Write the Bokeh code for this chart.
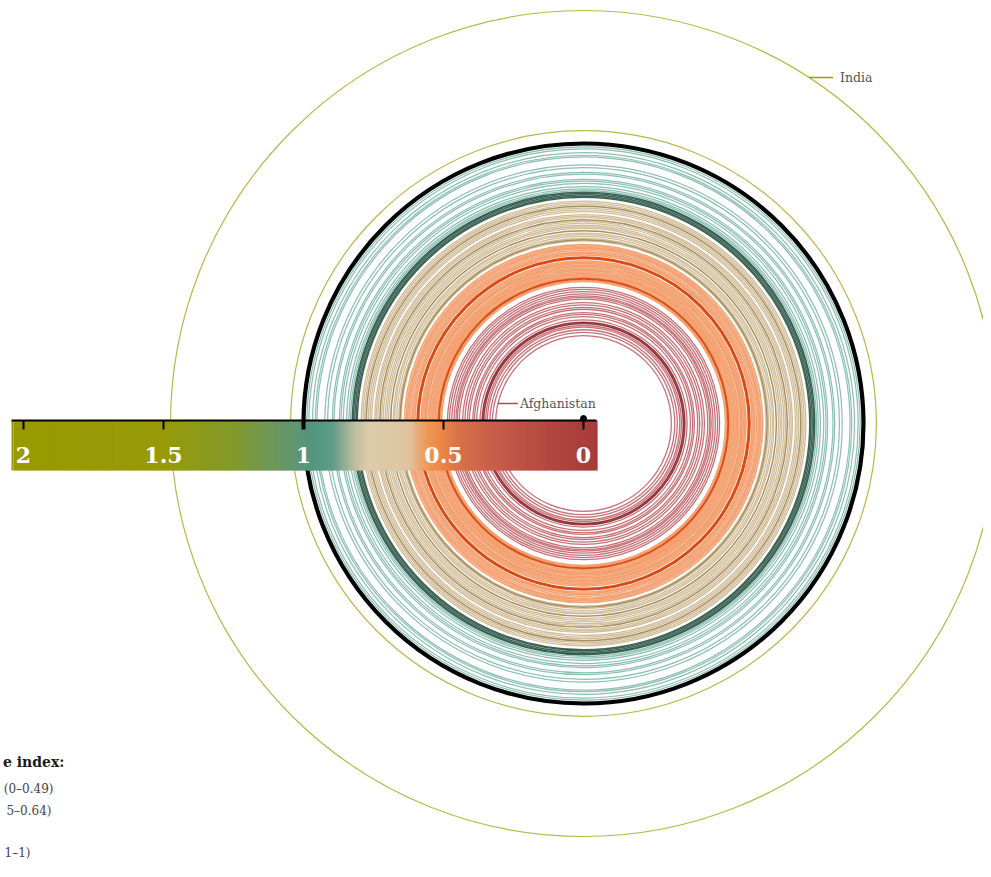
import math
from bokeh.plotting import figure
from bokeh.models import Range1d
from bokeh.core.properties import value
from bokeh.embed import file_html
from bokeh.resources import INLINE

# ---------------- data (index value per country) -------------
red_vals = [0.314, 0.326, 0.335, 0.344, 0.350, 0.370, 0.382, 0.390, 0.396,
            0.408, 0.415, 0.424, 0.432, 0.444, 0.451, 0.456, 0.463, 0.471,
            0.479, 0.486]
red_dark = [0.357, 0.362]
orange_vals = [0.507, 0.512, 0.521, 0.526, 0.531, 0.536, 0.541, 0.546, 0.551,
               0.556, 0.562, 0.566, 0.571, 0.576, 0.581, 0.602, 0.607, 0.612,
               0.618, 0.624, 0.629, 0.634, 0.640]
orange_dark = [0.517, 0.590, 0.594]
tan_vals = [0.652, 0.661, 0.668, 0.675, 0.680, 0.697, 0.703, 0.709, 0.716, 0.722,
            0.735, 0.741, 0.746, 0.757, 0.763, 0.769, 0.782, 0.788, 0.794]
tan_dark = [0.656, 0.689, 0.728, 0.776]
teal_vals = [0.832, 0.838, 0.846, 0.858, 0.866, 0.872, 0.891, 0.897, 0.914,
             0.924, 0.952, 0.958, 0.968, 0.981, 0.988]
teal_dark = [0.808, 0.812, 0.817, 0.822, 0.826]
above_vals = [1.046, 1.475]
parity_value = 1.0

label_names = ["Afghanistan", "India"]
label_values = [0.314, 1.475]

bar_ticks = [2, 1.5, 1, 0.5, 0]
bar_tick_labels = ["2", "1.5", "1", "0.5", "0"]

# legend text as far as the reference shows it (the rest lies off the page)
legend_title = "e index:"
legend_rows = ["(0–0.49)", "5–0.64)", "1–1)"]

# ---------------- layout -------------
W, H = 983, 861
S = 280.0            # px per index unit
CX, CY = 583, 423    # picture position of the centre


def X(px):
    return (px - CX) / S


def Y(py):
    return (CY - py) / S


p = figure(width=W, height=H, output_backend="svg", toolbar_location=None,
           x_range=Range1d(X(0), X(W)), y_range=Range1d(Y(H), Y(0)),
           min_border=0, x_axis_location=None, y_axis_location=None,
           background_fill_color="white", border_fill_color="white")
p.grid.visible = False
p.outline_line_color = None


def rings(vals, color, alpha, width):
    p.circle(x=[0] * len(vals), y=[0] * len(vals), radius=vals,
             fill_color=None, line_color=color, line_alpha=alpha, line_width=width)


rings(red_vals, "#b03c44", 0.72, 1.3)
rings(red_dark, "#8a2228", 0.9, 1.6)
rings(orange_vals, "#f07a38", 0.7, 1.5)
rings(orange_dark, "#d9460c", 0.95, 2.0)
rings(tan_vals, "#c6ab7e", 0.8, 1.3)
rings(tan_dark, "#9c8450", 0.9, 1.5)
rings(teal_vals, "#63aa97", 0.75, 1.2)
rings(teal_dark, "#1d4a3a", 0.85, 1.4)
rings(above_vals, "#b7b84a", 1.0, 1.2)
rings([parity_value], "#000000", 1.0, 4.2)

# ---------------- colour bar -------------
stops = [(2.05, (153, 153, 0)), (1.5, (151, 154, 8)), (1.25, (130, 154, 45)),
         (1.03, (95, 150, 115)), (0.97, (82, 149, 128)), (0.9, (95, 156, 135)),
         (0.82, (190, 190, 160)), (0.77, (222, 204, 170)), (0.63, (222, 196, 160)),
         (0.56, (238, 150, 85)), (0.52, (239, 138, 70)), (0.45, (217, 113, 74)),
         (0.3, (197, 90, 72)), (0.1, (176, 68, 63)), (-0.06, (165, 58, 59))]


def col_at(v):
    for (v0, c0), (v1, c1) in zip(stops[:-1], stops[1:]):
        if v1 <= v <= v0:
            t = (v0 - v) / (v0 - v1)
            return "#%02x%02x%02x" % tuple(int(round(a + (b - a) * t)) for a, b in zip(c0, c1))
    return "#%02x%02x%02x" % stops[-1][1]


bar_lo, bar_hi = -X(596), -X(11)   # value range covered by the bar
N = 300
step = (bar_hi - bar_lo) / N
lefts, rights, cols = [], [], []
for i in range(N):
    v0 = bar_lo + i * step
    lefts.append(-(v0 + step))
    rights.append(-v0 + (0.004 if i < N - 1 else 0))
    cols.append(col_at(v0 + step / 2))
p.quad(left=lefts, right=rights, top=Y(420), bottom=Y(470), fill_color=cols,
       line_color=None)

# axis line and ticks
p.segment(x0=[X(11)], y0=[Y(420)], x1=[X(596)], y1=[Y(420)], line_color="black",
          line_width=2)
tx = [-t for t in bar_ticks]
p.segment(x0=tx, y0=[Y(420)] * len(tx), x1=tx, y1=[Y(429)] * len(tx),
          line_color="black", line_width=[4 if t == 1 else 2 for t in bar_ticks])
p.scatter(x=[-bar_ticks[-1]], y=[Y(418)], size=6, marker="circle", color="black")
p.text(x=tx, y=[Y(454)] * len(tx), text=bar_tick_labels, text_color="white",
       text_font=value("DejaVu Serif"), text_font_style="bold", text_font_size="22px",
       text_align="center", text_baseline="alphabetic")

# ---------------- country labels -------------
lab_py = [403, 77]
lab_dir = [-1, 1]
lab_len = [20, 24]
lab_gap = [2, 7]
lab_col = ["#b04a50", "#9a9a10"]
for name, v, py, d, ln, g, c in zip(label_names, label_values, lab_py, lab_dir,
                                    lab_len, lab_gap, lab_col):
    yy = Y(py)
    xs = d * math.sqrt(v * v - yy * yy)
    xe = xs + ln / S
    p.segment(x0=[xs], y0=[yy], x1=[xe], y1=[yy], line_color=c, line_width=1.5)
    p.text(x=[xe + g / S], y=[yy], text=[name], text_color="#555555",
           text_font=value("DejaVu Serif"), text_font_size="12.5px",
           text_align="left", text_baseline="middle")

# ---------------- legend -------------
p.text(x=[X(64)], y=[Y(761)], text=[legend_title], text_color="#1a1a1a",
       text_font=value("DejaVu Serif"), text_font_style="bold", text_font_size="14px",
       text_align="right", text_baseline="alphabetic")
row_ends = [53, 51, 30]
row_base = [788, 810, 852]
p.text(x=[X(e) for e in row_ends], y=[Y(b) for b in row_base], text=legend_rows,
       text_color="#444444", text_font=value("DejaVu Serif"), text_font_size="12px",
       text_align="right", text_baseline="alphabetic")

open("out.html", "w").write(file_html(p, INLINE))
